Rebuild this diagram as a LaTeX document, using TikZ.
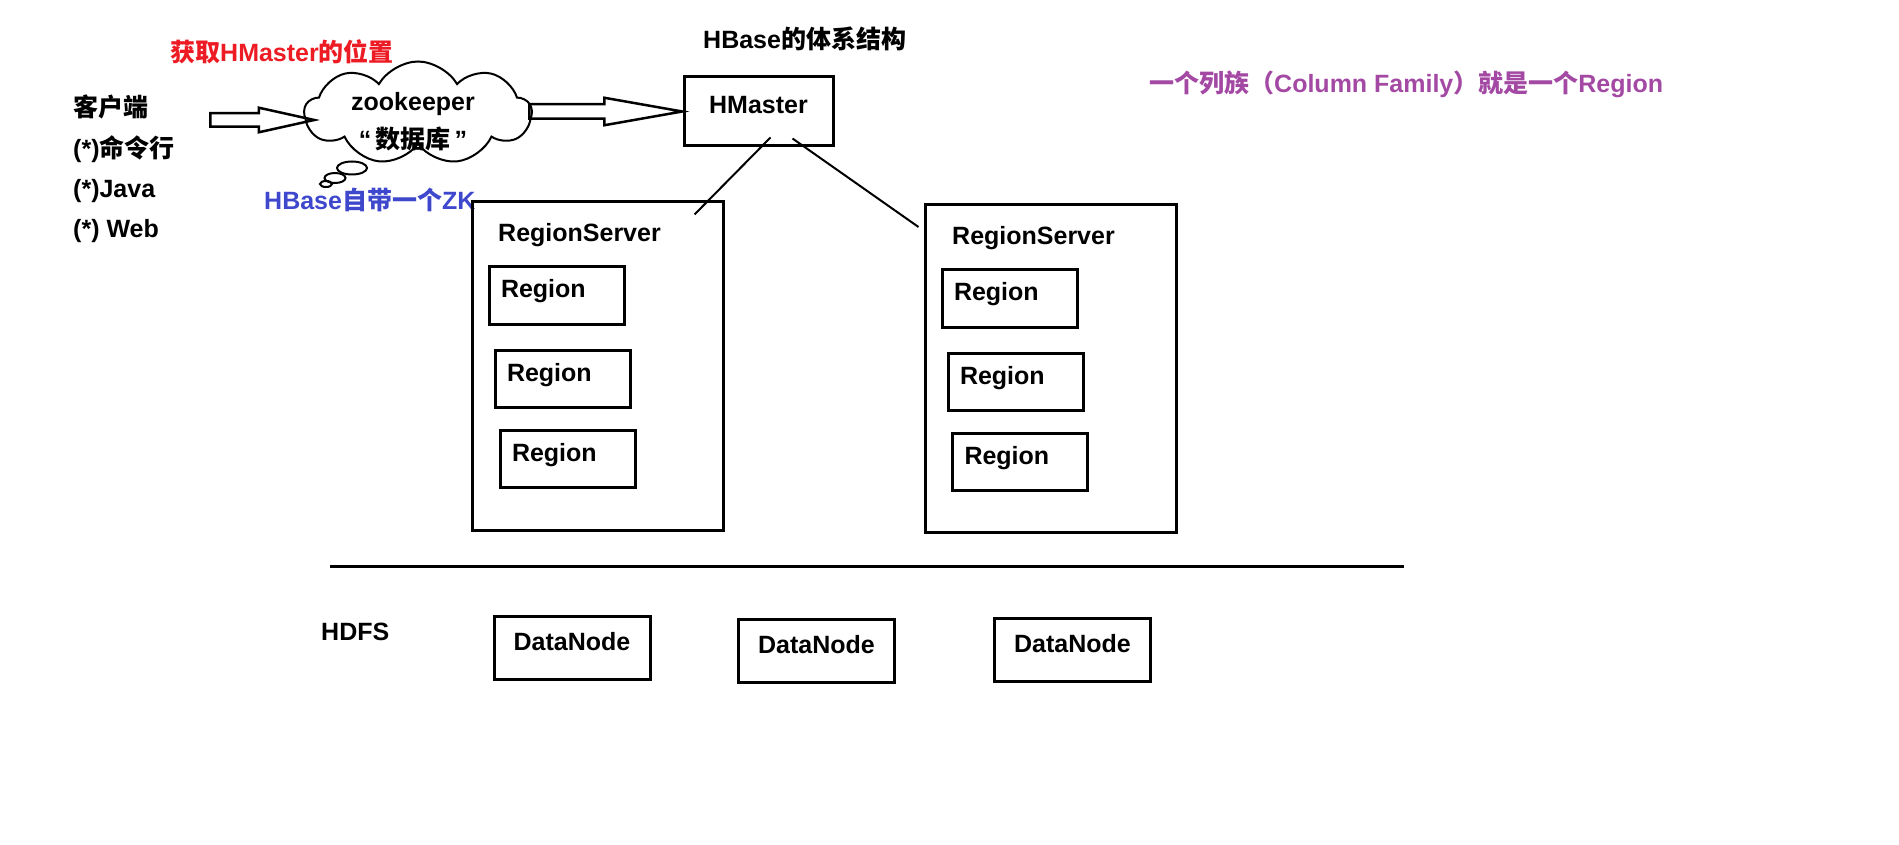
\documentclass[tikz,border=0pt]{standalone}
\usepackage{fontspec}
\setmainfont{Liberation Sans}
\newfontfamily\cjk{Noto Sans CJK SC}
\usetikzlibrary{shapes.symbols,shapes.arrows}
\newcommand\zh[1]{{\cjk #1}}
\definecolor{paintred}{RGB}{237,28,36}
\definecolor{paintblue}{RGB}{63,72,204}
\definecolor{paintpurple}{RGB}{163,73,164}
\tikzset{
  txt/.style={font=\bfseries\fontsize{25}{30}\selectfont, inner sep=0pt},
  box/.style={draw, line width=3pt, txt, text height=18pt, text depth=13pt},
  regionbox/.style={box, minimum width=135pt, minimum height=57pt, text width=111pt, inner xsep=12pt, align=left},
  datanodebox/.style={box, minimum width=156pt, minimum height=63pt},
  serverbox/.style={draw, line width=3pt, minimum width=251pt, minimum height=328pt},
  hollow/.style={single arrow, draw, line width=2.5pt, inner xsep=0pt, single arrow head indent=0pt, anchor=tail},
  link/.style={line width=2pt},
}
\begin{document}
\begin{tikzpicture}[x=1pt, y=-1pt]
    \useasboundingbox (0,0) rectangle (1899,845);
    \node[txt, anchor=base west, text=paintred] (where) at (170,62) {\zh{获取}HMaster\zh{的位置}};
    \node[txt, anchor=base west] (title) at (703,49) {HBase\zh{的体系结构}};
    \node[txt, anchor=base west, text=paintpurple] (family) at (1149,93) {\zh{一个列族（}Column Family\zh{）就是一个}Region};
    % client side
    \node[txt, anchor=base west] (client) at (73,117) {\zh{客户端}};
    \node[txt, anchor=base west] (cmd) at (73,158) {(*)\zh{命令行}};
    \node[txt, anchor=base west] (java) at (73,198) {(*)Java};
    \node[txt, anchor=base west] (web) at (73,238) {(*) Web};
    \node[hollow, inner ysep=5.5pt, minimum height=104pt, minimum width=24pt, single arrow head extend=5.5pt, single arrow tip angle=25] (ask) at (209,120) {};
    % zookeeper
    \node[cloud, draw, line width=2pt, cloud puffs=9, cloud puff arc=120, minimum width=227pt, minimum height=103pt, inner sep=0pt] (zk) at (418,113) {};
    \node[txt, anchor=base] (zkname) at (413,111) {zookeeper};
    \node[txt, anchor=base] (zkdb) at (413,149) {“\,\zh{数据库}\,”};
    \draw[line width=2pt] (352,168) ellipse (15 and 6.5);
    \draw[line width=2pt] (335,178) ellipse (10.5 and 5);
    \draw[line width=2pt] (326,184) ellipse (6 and 3);
    \node[txt, anchor=base west, text=paintblue] (zkown) at (264,210) {HBase\zh{自带一个}ZK};
    \node[hollow, inner ysep=6pt, minimum height=153pt, minimum width=27pt, single arrow head extend=6.5pt, single arrow tip angle=20] (find) at (528,111.5) {};
    % master and region servers
    \node[box, minimum width=149pt, minimum height=69pt] (hmaster) at (758.5,111.5) {HMaster};
    \node[serverbox] (rs1) at (597.5,366) {};
    \node[serverbox] (rs2) at (1050.5,368.5) {};
    \node[txt, anchor=base west] (rs1name) at (498,242) {RegionServer};
    \node[txt, anchor=base west] (rs2name) at (952,245) {RegionServer};
    \node[regionbox] (r11) at (556.5,295.5) {Region};
    \node[regionbox] (r12) at (562.5,378.5) {Region};
    \node[regionbox] (r13) at (567.5,458.5) {Region};
    \node[regionbox] (r21) at (1009.5,298.5) {Region};
    \node[regionbox] (r22) at (1015.5,381.5) {Region};
    \node[regionbox] (r23) at (1020,461.5) {Region};
    \draw[link] ([shift={(12,-10)}]hmaster.south) -- ([shift={(-30,14)}]rs1.north east);
    \draw[link] ([shift={(34,-9)}]hmaster.south) -- ([shift={(-5,24)}]rs2.north west);
    % hdfs
    \draw[line width=3pt] (330,566) -- (1404,566);
    \node[txt, anchor=base west] (hdfs) at (321,640) {HDFS};
    \node[datanodebox] (dn1) at (572,647.5) {DataNode};
    \node[datanodebox] (dn2) at (816.5,650.5) {DataNode};
    \node[datanodebox] (dn3) at (1072.5,649.5) {DataNode};
\end{tikzpicture}
\end{document}
